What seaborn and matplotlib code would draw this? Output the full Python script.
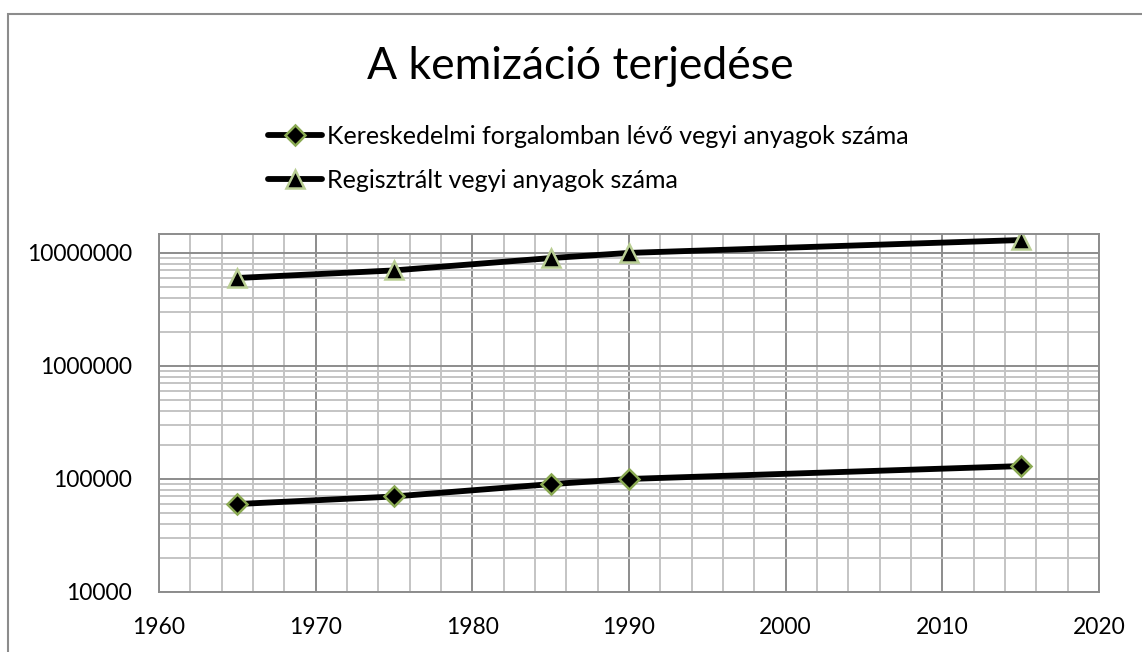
import numpy as np
import pandas as pd
import matplotlib.pyplot as plt
import matplotlib.ticker as mticker
from matplotlib.patches import Rectangle
import seaborn as sns

# --- data ---
years = [1965, 1975, 1985, 1990, 2015]
kereskedelmi = [60000, 70000, 90000, 100000, 130000]
regisztralt = [6000000, 7000000, 9000000, 10000000, 13000000]
label_ker = 'Kereskedelmi forgalomban lévő vegyi anyagok száma'
label_reg = 'Regisztrált vegyi anyagok száma'
title = 'A kemizáció terjedése'
x_ticks = [1960, 1970, 1980, 1990, 2000, 2010, 2020]
y_ticks = [10000, 100000, 1000000, 10000000]

df_ker = pd.DataFrame({'ev': years, 'ertek': kereskedelmi})
df_reg = pd.DataFrame({'ev': years, 'ertek': regisztralt})

# --- style ---
sns.set_theme(style='white')
plt.rcParams['font.family'] = ['Lato', 'DejaVu Sans']
plt.rcParams['text.color'] = 'black'

W, H = 1142, 652
fig = plt.figure(figsize=(W / 100, H / 100), dpi=100)
ax = fig.add_axes([159 / W, 1 - 592 / H, (1099 - 159) / W, (592 - 234) / H])

sns.lineplot(data=df_ker, x='ev', y='ertek', ax=ax, color='black', lw=4.2,
             marker='D', markersize=10, markerfacecolor='black',
             markeredgecolor='#8AA952', markeredgewidth=1.8, label=label_ker)
sns.lineplot(data=df_reg, x='ev', y='ertek', ax=ax, color='black', lw=4.2,
             marker='^', markersize=13, markerfacecolor='black',
             markeredgecolor='#B9CE93', markeredgewidth=1.8, label=label_reg)

ax.set_yscale('log')
ax.set_xlim(1960, 2020)
ax.set_ylim(10000, 1.47e7)
ax.set_xticks(x_ticks)
ax.xaxis.set_minor_locator(mticker.MultipleLocator(2))
ax.set_yticks(y_ticks)
ax.yaxis.set_major_formatter(mticker.FuncFormatter(lambda v, p: f'{v:.0f}'))
ax.yaxis.set_minor_locator(mticker.LogLocator(base=10, subs=np.arange(2, 10)))
ax.yaxis.set_minor_formatter(mticker.NullFormatter())

ax.grid(which='major', color='#8C8C8C', lw=1.4)
ax.grid(which='minor', color='#C4C4C4', lw=1.4)
ax.set_axisbelow(True)
ax.tick_params(axis='both', which='both', length=0, labelsize=16.5, colors='black')
ax.tick_params(axis='x', pad=18)
ax.tick_params(axis='y', pad=19.5)
for s in ax.spines.values():
    s.set_color('#8C8C8C')
    s.set_linewidth(1.4)
ax.set_xlabel('')
ax.set_ylabel('')

fig.text(580 / W, 1 - 79 / H, title, ha='center', va='baseline', fontsize=32)

handles, labels = ax.get_legend_handles_labels()
ax.legend(handles, labels, loc='upper left', bbox_to_anchor=(268 / W, 1 - 125 / H),
          bbox_transform=fig.transFigure, frameon=False, fontsize=18,
          handlelength=2.15, handletextpad=0.2, borderpad=0, borderaxespad=0,
          labelspacing=0.84)

fig.patches.append(Rectangle((8 / W, -0.1), 1.2, 1.1 - 14 / H, transform=fig.transFigure,
                             fill=False, edgecolor='#8C8C8C', lw=1.5))

fig.savefig('out.png', dpi=100)
